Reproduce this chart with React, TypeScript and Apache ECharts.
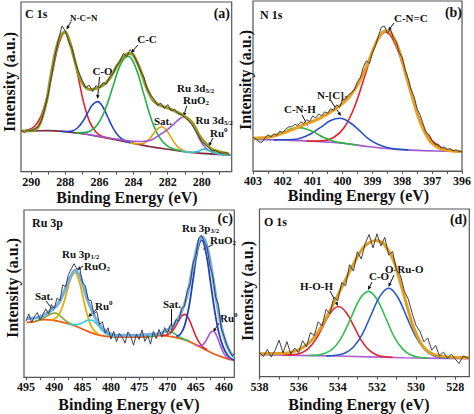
import React, { useEffect, useRef } from 'react';
import * as echarts from 'echarts';

type P = [number, number];

// ---------------- Panel (a) C 1s ----------------
const aLabels = [290, 288, 286, 284, 282, 280];
const aTicks = [290, 289, 288, 287, 286, 285, 284, 283, 282, 281, 280, 279];
const aRaw: P[] = [[290.6,24.5],[290.4,23.0],[290.2,24.8],[290.0,23.9],[289.8,25.3],[289.6,26.4],[289.4,30.1],[289.2,37.5],[289.0,45.8],[288.8,57.2],[288.6,68.5],[288.4,78.0],[288.2,85.8],[288.0,83.0],[287.8,76.5],[287.6,72.4],[287.4,63.8],[287.2,58.1],[287.0,53.6],[286.8,49.4],[286.6,51.0],[286.4,47.2],[286.2,50.8],[286.0,49.3],[285.8,52.4],[285.6,51.6],[285.4,56.0],[285.2,57.9],[285.0,62.4],[284.8,64.9],[284.6,69.7],[284.4,67.8],[284.2,72.0],[284.0,69.0],[283.8,64.5],[283.6,59.7],[283.4,55.8],[283.2,48.6],[283.0,45.2],[282.8,42.8],[282.6,39.0],[282.4,40.4],[282.2,37.2],[282.0,39.6],[281.8,35.9],[281.6,36.8],[281.4,34.2],[281.2,33.8],[281.0,31.9],[280.8,30.4],[280.6,28.0],[280.4,24.6],[280.2,21.4],[280.0,17.5],[279.8,16.0],[279.6,14.3],[279.4,12.3],[279.2,12.6],[279.0,11.4],[278.8,10.8],[278.6,11.2],[278.4,10.1]];
const aFit: P[] = [[290.55,24.0],[289.86,24.6],[289.48,28.5],[289.09,42.2],[288.89,54.0],[288.60,69.7],[288.31,79.6],[288.02,82.5],[287.73,75.6],[287.43,64.8],[287.14,55.0],[286.85,50.1],[286.56,48.5],[286.17,49.1],[285.78,51.1],[285.39,55.0],[285.0,61.9],[284.62,67.4],[284.32,69.7],[284.03,68.8],[283.64,60.9],[283.26,50.1],[282.87,42.2],[282.48,39.3],[282.09,37.9],[281.70,36.3],[281.31,34.4],[280.92,32.0],[280.53,28.5],[280.15,21.5],[279.76,16.5],[279.37,13.0],[278.98,11.8],[278.40,10.4]];
const aBase: P[] = [[290.6,24.0],[290.0,24.0],[289,24.2],[288,23.6],[287,22.4],[286,20.6],[285,18.7],[284,16.7],[283,14.7],[282,13.2],[281,11.8],[280,10.8],[279,10.2],[278.25,9.8]];
const aNCN: P[] = [[290.6,24.0],[290.18,24.6],[289.82,26.6],[289.46,32.0],[289.10,43.2],[288.74,59.5],[288.38,75.4],[288.02,82.1],[287.66,74.8],[287.30,58.3],[286.94,41.3],[286.58,29.5],[286.22,23.6],[285.86,20.9],[285.4,19.5]];
const aCO: P[] = [[288.3,23.8],[287.91,23.7],[287.61,24.0],[287.31,25.6],[287.01,29.1],[286.71,34.3],[286.41,39.4],[286.11,41.3],[285.81,38.3],[285.51,32.1],[285.21,25.8],[284.91,21.3],[284.61,18.8],[284.31,17.5],[284.0,16.9]];
const aCC: P[] = [[287.4,22.9],[287.02,23.0],[286.57,23.8],[286.12,27.7],[285.67,36.5],[285.22,49.9],[284.77,63.1],[284.32,68.1],[283.87,61.2],[283.42,46.3],[282.97,31.2],[282.52,20.8],[282.07,15.5],[281.62,13.3],[281.2,12.4]];
const aSat: P[] = [[284.2,17.0],[283.84,16.5],[283.59,16.5],[283.34,17.1],[283.09,19.1],[282.84,22.3],[282.59,25.4],[282.34,26.5],[282.09,24.6],[281.84,20.8],[281.59,16.8],[281.34,14.0],[281.09,12.5],[280.84,11.7],[280.5,11.3]];
const aRuO2: P[] = [[287.0,22.4],[286.0,20.9],[285.0,19.2],[284.0,17.9],[283.5,17.8],[283.0,18.5],[282.5,21.5],[282.0,25.0],[281.6,28.5],[281.3,31.2],[281.06,32.4],[280.8,30.5],[280.5,26.8],[280.2,20.5],[279.9,15.5],[279.6,12.6],[279.3,11.2],[279.0,10.5],[278.5,10.0]];
const aRu0: P[] = [[281.2,12.1],[280.8,11.6],[280.5,11.5],[280.2,12.0],[279.91,13.3],[279.6,12.6],[279.3,11.2],[279.0,10.4],[278.6,10.0],[278.25,9.8]];

// ---------------- Panel (b) N 1s ----------------
const bLabels = [403, 402, 401, 400, 399, 398, 397, 396];
const bTicks = [403, 402.5, 402, 401.5, 401, 400.5, 400, 399.5, 399, 398.5, 398, 397.5, 397, 396.5, 396];
const bRaw: P[] = [[403.0,19.8],[402.9,18.9],[402.8,17.2],[402.7,16.8],[402.6,19.5],[402.5,21.3],[402.4,20.0],[402.3,21.9],[402.2,21.0],[402.1,23.5],[402.0,22.6],[401.9,24.8],[401.8,25.9],[401.7,26.1],[401.6,27.4],[401.5,26.8],[401.4,28.9],[401.3,28.0],[401.2,30.2],[401.1,29.1],[401.0,32.4],[400.9,31.2],[400.8,33.6],[400.7,32.5],[400.6,34.8],[400.5,33.9],[400.4,36.6],[400.3,35.8],[400.2,38.9],[400.1,37.5],[400.0,41.9],[399.9,42.5],[399.8,44.9],[399.7,46.1],[399.6,48.0],[399.5,52.6],[399.4,55.0],[399.3,61.5],[399.2,64.8],[399.1,63.2],[399.0,69.5],[398.9,73.6],[398.8,79.4],[398.7,84.6],[398.6,85.3],[398.5,81.0],[398.4,83.6],[398.3,78.2],[398.2,75.9],[398.1,69.6],[398.0,66.8],[397.9,59.5],[397.8,54.2],[397.7,47.8],[397.6,43.5],[397.5,36.4],[397.4,32.8],[397.3,27.6],[397.2,22.5],[397.1,21.4],[397.0,17.8],[396.9,15.6],[396.8,15.9],[396.7,13.5],[396.6,14.2],[396.5,12.8],[396.4,13.1],[396.3,11.9],[396.2,12.4],[396.1,11.6],[396.0,11.2]];
const bFit: P[] = [[403,19.2],[402.42,20.2],[401.87,23.1],[401.32,27.1],[400.77,31.0],[400.21,36.9],[399.77,43.7],[399.44,52.5],[399.11,65.3],[398.89,75.1],[398.67,81.4],[398.50,82.5],[398.33,80.0],[398.11,71.2],[397.89,57.5],[397.67,43.7],[397.45,31.0],[397.23,22.2],[397.01,16.3],[396.67,12.7],[396.01,11.4]];
const bBase: P[] = [[403,18.6],[402,18.2],[401,17.5],[400,16.3],[399.1,14.3],[398.2,12.7],[397.3,12.0],[396,11.4]];
const bCNC: P[] = [[401.2,17.6],[400.65,17.8],[400.30,19.7],[399.95,25.4],[399.60,37.7],[399.25,56.2],[398.90,74.3],[398.55,81.8],[398.20,73.1],[397.85,53.9],[397.50,34.4],[397.15,21.1],[396.80,14.7],[396.45,12.3],[396.0,11.4]];
const bNC3: P[] = [[402.3,18.3],[401.97,18.4],[401.66,18.5],[401.34,19.7],[401.03,22.2],[400.71,26.0],[400.40,29.7],[400.08,31.0],[399.77,28.7],[399.45,24.0],[399.14,19.1],[398.82,15.7],[398.51,13.8],[398.19,12.9],[397.8,12.4]];
const bCNH: P[] = [[403,18.7],[402.81,18.8],[402.53,19.4],[402.26,20.8],[401.98,22.9],[401.71,24.8],[401.43,25.5],[401.16,24.4],[400.88,22.1],[400.61,19.5],[400.33,17.7],[400.06,16.7],[399.78,15.9],[399.5,15.3]];

// ---------------- Panel (c) Ru 3p ----------------
const cLabels = [495, 490, 485, 480, 475, 470, 465, 460];
const cTicks = [495, 492.5, 490, 487.5, 485, 482.5, 480, 477.5, 475, 472.5, 470, 467.5, 465, 462.5, 460];
const cRaw: P[] = [[495.0,33.5],[494.5,37.8],[494.0,32.9],[493.5,36.4],[493.0,38.7],[492.5,34.2],[492.0,37.6],[491.5,40.9],[491.0,37.8],[490.5,43.5],[490.0,41.2],[489.5,47.4],[489.0,45.8],[488.5,55.3],[488.0,54.1],[487.5,61.5],[487.0,64.8],[486.5,67.9],[486.0,64.6],[485.5,65.2],[485.0,56.4],[484.5,54.8],[484.0,46.3],[483.5,45.9],[483.0,37.8],[482.5,39.4],[482.0,31.6],[481.5,33.2],[481.0,26.4],[480.5,29.6],[480.0,22.8],[479.5,27.4],[479.0,21.3],[478.5,26.2],[478.0,23.9],[477.5,20.4],[477.0,27.1],[476.5,24.5],[476.0,19.2],[475.5,25.8],[475.0,22.6],[474.5,28.3],[474.0,21.5],[473.5,24.9],[473.0,19.8],[472.5,27.4],[472.0,23.1],[471.5,28.6],[471.0,24.0],[470.5,29.7],[470.0,26.2],[469.5,31.4],[469.0,29.8],[468.5,34.6],[468.0,33.5],[467.5,41.2],[467.0,42.5],[466.5,51.8],[466.0,55.4],[465.5,68.1],[465.0,72.6],[464.5,83.2],[464.0,85.0],[463.5,80.9],[463.0,77.8],[462.5,66.4],[462.0,60.5],[461.5,47.9],[461.0,43.4],[460.5,29.0],[460.0,24.5],[459.5,19.0],[459.0,15.5],[458.5,12.6],[458.2,14.3]];
const cFit: P[] = [[494.88,35.1],[492.53,36.1],[490.17,41.0],[489.2,44.5],[488.40,50.0],[487.22,59.5],[486.34,64.0],[485.45,60.5],[484.28,47.5],[483.10,38.0],[481.92,31.0],[480.74,27.1],[478.97,25.1],[476.03,25.1],[473.08,25.7],[471.31,26.1],[470.13,28.1],[468.95,31.1],[467.78,37.1],[466.60,48.0],[465.42,67.9],[464.53,80.9],[463.95,83.9],[463.36,81.9],[462.48,70.0],[461.30,45.0],[460.12,25.0],[458.94,15.0],[458.2,12.2]];
const cBase: P[] = [[494.9,32.8],[493.7,33.1],[491.94,34.5],[489.58,33.7],[486.63,31.1],[484.27,27.7],[481.92,25.1],[478.97,24.1],[474.26,24.1],[471.31,24.9],[468.95,24.1],[466.60,22.1],[464.24,18.1],[461.88,14.1],[459.53,11.2],[458.2,10.2]];
const cSatL: P[] = [[493.47,33.3],[492.87,34.0],[492.27,34.9],[491.67,35.9],[491.07,37.0],[490.47,38.1],[489.87,38.4],[489.27,37.6],[488.67,35.8],[488.07,34.0],[487.47,32.6],[486.87,31.6],[486.27,30.7]];
const cRuO2L: P[] = [[490.54,34.4],[489.84,35.2],[489.14,37.7],[488.44,43.3],[487.74,51.6],[487.04,59.5],[486.34,62.6],[485.64,57.9],[484.94,48.1],[484.24,38.1],[483.54,31.1],[482.84,27.4],[482.14,25.7]];
const cRu0L: P[] = [[487.59,32.2],[486.89,31.7],[486.19,31.5],[485.49,31.9],[484.79,33.1],[484.09,34.1],[483.39,34.2],[482.69,32.5],[481.99,29.8],[481.29,27.3],[480.59,25.6],[479.89,24.7],[479.19,24.3]];
const cSatR1: P[] = [[473.44,24.3],[472.84,24.6],[472.24,25.0],[471.64,25.8],[471.04,26.7],[470.44,27.4],[469.84,27.6],[469.24,26.9],[468.64,25.8],[468.04,24.5],[467.44,23.3],[466.84,22.4],[466.24,21.5]];
const cSatR2: P[] = [[470.79,25.0],[470.14,25.4],[469.49,26.5],[468.84,29.0],[468.19,32.8],[467.54,36.4],[466.89,37.6],[466.24,34.9],[465.59,29.6],[464.94,24.2],[464.29,20.3],[463.64,17.8],[462.99,16.7]];
const cRuO2R: P[] = [[468.45,24.4],[467.70,25.9],[466.95,31.1],[466.20,42.3],[465.45,59.2],[464.70,75.7],[463.95,82.0],[463.20,74.5],[462.45,58.0],[461.70,40.5],[460.95,27.0],[460.20,18.5],[459.45,13.5],[458.7,11.0],[458.2,10.3]];
const cRu0R: P[] = [[464.88,19.4],[464.38,18.9],[463.88,19.3],[463.38,20.9],[462.88,23.9],[462.38,26.9],[461.88,27.5],[461.38,25.3],[460.88,21.1],[460.38,16.6],[459.88,13.4],[459.38,11.7],[458.88,10.9]];

// ---------------- Panel (d) O 1s ----------------
const dLabels = [538, 536, 534, 532, 530, 528];
const dTicks = [538, 537, 536, 535, 534, 533, 532, 531, 530, 529, 528];
const dRaw: P[] = [[538.0,14.5],[537.8,12.0],[537.6,16.3],[537.4,11.8],[537.2,15.9],[537.0,21.8],[536.8,14.2],[536.6,20.9],[536.4,13.6],[536.2,17.1],[536.0,14.4],[535.8,21.5],[535.6,17.8],[535.4,26.3],[535.2,24.5],[535.0,32.8],[534.8,30.2],[534.6,40.1],[534.4,37.5],[534.2,47.6],[534.0,45.3],[533.8,56.1],[533.6,54.2],[533.4,66.8],[533.2,63.0],[533.0,74.5],[532.8,70.2],[532.6,79.4],[532.4,84.8],[532.2,76.8],[532.0,85.2],[531.8,78.0],[531.6,83.1],[531.4,72.5],[531.2,74.6],[531.0,63.4],[530.8,60.5],[530.6,51.2],[530.4,46.3],[530.2,37.9],[530.0,30.6],[529.8,26.9],[529.6,20.8],[529.4,23.1],[529.2,15.8],[529.0,18.6],[528.8,12.4],[528.6,14.7],[528.4,11.0],[528.2,13.5],[528.0,10.6],[527.8,7.8],[527.6,12.4],[527.3,11.0]];
const dFit: P[] = [[537.97,13.7],[536.60,14.1],[535.75,17.7],[535.07,25.6],[534.39,39.5],[533.71,55.4],[533.19,67.3],[532.68,77.2],[532.09,81.2],[531.66,79.2],[531.15,69.2],[530.64,49.4],[530.13,29.6],[529.62,17.7],[528.93,12.7],[527.28,11.3]];
const dBase: P[] = [[538,13.1],[534.05,12.3],[530.64,11.3],[527.28,10.7]];
const dHOH: P[] = [[536.8,13.0],[536.30,13.1],[535.91,14.0],[535.52,16.6],[535.13,22.1],[534.74,30.4],[534.35,38.5],[533.96,41.9],[533.57,38.3],[533.18,30.1],[532.79,21.5],[532.40,15.8],[532.01,13.0],[531.62,11.9],[531.2,11.6]];
const dCO: P[] = [[535.5,12.6],[535.04,12.9],[534.61,14.1],[534.17,17.6],[533.74,24.9],[533.30,35.8],[532.87,46.5],[532.43,50.9],[532.00,46.2],[531.56,35.3],[531.13,24.1],[530.69,16.6],[530.26,12.9],[529.82,11.6],[529.4,11.2]];
const dORuO: P[] = [[534.6,12.4],[534.10,12.8],[533.65,14.0],[533.20,17.7],[532.75,25.3],[532.30,36.8],[531.85,47.9],[531.40,52.7],[530.95,47.7],[530.50,36.3],[530.05,24.6],[529.60,16.7],[529.15,12.8],[528.70,11.5],[528.2,11.1]];

const FONT = 'Liberation Serif, Times New Roman, serif';
const INK = '#111';

let measureCtx: CanvasRenderingContext2D | null = null;
function tw(s: string, size: number): number {
  if (!measureCtx) measureCtx = document.createElement('canvas').getContext('2d');
  if (!measureCtx) return s.length * size * 0.5;
  measureCtx.font = `bold ${size}px ${FONT}`;
  return measureCtx.measureText(s).width;
}

type Part = { t: string; s: number; dy?: number };
function rtext(x: number, y: number, parts: Part[], align: 'left' | 'center' | 'right' = 'left') {
  const ws = parts.map((p) => tw(p.t, p.s));
  const total = ws.reduce((a, b) => a + b, 0);
  let cx = align === 'left' ? x : align === 'center' ? x - total / 2 : x - total;
  return parts.map((p, i) => {
    const el = {
      type: 'text',
      x: cx,
      y: y + (p.dy || 0),
      silent: true,
      style: {
        text: p.t,
        font: `bold ${p.s}px ${FONT}`,
        fill: INK,
        lineHeight: p.s,
        textAlign: 'left',
        textVerticalAlign: 'middle',
      },
    };
    cx += ws[i];
    return el;
  });
}

function arrow(x1: number, y1: number, x2: number, y2: number) {
  const ang = Math.atan2(y2 - y1, x2 - x1);
  const L = 4;
  const W = 1.8;
  const bx = x2 - L * Math.cos(ang);
  const by = y2 - L * Math.sin(ang);
  const px = -Math.sin(ang) * W;
  const py = Math.cos(ang) * W;
  return [
    { type: 'line', silent: true, shape: { x1, y1, x2: bx, y2: by }, style: { stroke: INK, lineWidth: 1 } },
    { type: 'polygon', silent: true, shape: { points: [[x2, y2], [bx + px, by + py], [bx - px, by - py]] }, style: { fill: INK } },
  ];
}

function rotLabel(x: number, y: number, text: string) {
  return {
    type: 'text',
    x,
    y,
    rotation: Math.PI / 2,
    silent: true,
    style: { text, font: `bold 16px ${FONT}`, fill: INK, lineHeight: 16, textAlign: 'center', textVerticalAlign: 'middle' },
  };
}

export default function App() {
  const ref = useRef<HTMLDivElement>(null);
  useEffect(() => {
    if (!ref.current) return;
    const chart = echarts.init(ref.current, null, { renderer: 'svg' });

    const grids = [
      { left: 21, top: 2, width: 210.7, height: 169.7 },
      { left: 253, top: 1, width: 211.3, height: 170 },
      { left: 24, top: 210, width: 210.3, height: 167.3 },
      { left: 259.5, top: 209, width: 209.8, height: 167.7 },
    ];
    const ranges = [
      { min: 278.25, max: 290.6, labels: aLabels, ticks: aTicks },
      { min: 396, max: 403, labels: bLabels, ticks: bTicks },
      { min: 458.2, max: 495.35, labels: cLabels, ticks: cTicks },
      { min: 527.28, max: 538, labels: dLabels, ticks: dTicks },
    ];

    const line = (g: number, data: P[], color: string, width: number, smooth: number | boolean, z = 2) => ({
      type: 'line',
      xAxisIndex: g,
      yAxisIndex: g,
      data,
      symbol: 'none',
      showSymbol: false,
      smooth,
      silent: true,
      z,
      clip: true,
      lineStyle: { color, width },
      itemStyle: { color },
    });

    const series = [
      // (a)
      line(0, aBase, '#7b2838', 1.6, 0.4),
      line(0, aNCN, '#e5202a', 1.6, 0.4),
      line(0, aCO, '#2448c0', 1.6, 0.4),
      line(0, aCC, '#22b04a', 1.6, 0.4),
      line(0, aSat, '#e0a410', 1.6, 0.4),
      line(0, aRuO2, '#a258d2', 1.6, 0.4),
      line(0, aRu0, '#2cc3d3', 1.6, 0.4),
      line(0, aFit, '#9b9b22', 3, 0.3, 3),
      line(0, aRaw, '#404040', 1, false, 4),
      // (b)
      line(1, bBase, '#a058d0', 1.6, 0.4),
      line(1, bCNC, '#e8202a', 1.6, 0.4),
      line(1, bNC3, '#2a50c8', 1.6, 0.4),
      line(1, bCNH, '#30b040', 1.6, 0.4),
      line(1, bFit, '#e8a020', 3, 0.3, 3),
      line(1, bRaw, '#404040', 1, false, 4),
      // (c)
      line(2, cBase, '#f05a14', 1.8, 0.4),
      line(2, cSatL, '#86a032', 1.6, 0.4),
      line(2, cRuO2L, '#e0b000', 1.8, 0.4),
      line(2, cRu0L, '#30d0d0', 1.6, 0.4),
      line(2, cSatR1, '#30c050', 1.6, 0.4),
      line(2, cSatR2, '#e02030', 1.6, 0.4),
      line(2, cRuO2R, '#2040c0', 1.8, 0.4),
      line(2, cRu0R, '#b050d0', 1.6, 0.4),
      line(2, cFit, '#74aee2', 3, 0.3, 3),
      line(2, cRaw, '#3a4050', 1, false, 4),
      // (d)
      line(3, dBase, '#b060d0', 1.6, 0.4),
      line(3, dHOH, '#e02030', 1.6, 0.4),
      line(3, dCO, '#30c050', 1.6, 0.4),
      line(3, dORuO, '#2858c8', 1.6, 0.4),
      line(3, dFit, '#e0a020', 3, 0.3, 3),
      line(3, dRaw, '#404040', 1, false, 4),
    ];

    const sub = 3;
    const sup = -3;
    const graphic: any[] = [
      // y-axis titles
      rotLabel(9, 82, 'Intensity (a.u.)'),
      rotLabel(245, 80, 'Intensity (a.u.)'),
      rotLabel(12.5, 288, 'Intensity (a.u.)'),
      rotLabel(247, 291, 'Intensity (a.u.)'),
      // x-axis titles
      ...rtext(127, 197, [{ t: 'Binding Energy (eV)', s: 16 }], 'center'),
      ...rtext(358.5, 195, [{ t: 'Binding Energy (eV)', s: 16 }], 'center'),
      ...rtext(129, 404.5, [{ t: 'Binding Energy (eV)', s: 16 }], 'center'),
      ...rtext(359, 404, [{ t: 'Binding Energy (eV)', s: 16 }], 'center'),
      // panel titles
      ...rtext(25, 13.5, [{ t: 'C 1s', s: 12 }]),
      ...rtext(230, 13.5, [{ t: '(a)', s: 14 }], 'right'),
      ...rtext(260, 15, [{ t: 'N 1s', s: 12 }]),
      ...rtext(462, 12.5, [{ t: '(b)', s: 14 }], 'right'),
      ...rtext(32, 223, [{ t: 'Ru 3p', s: 12 }]),
      ...rtext(233, 218.5, [{ t: '(c)', s: 14 }], 'right'),
      ...rtext(264, 221.5, [{ t: 'O 1s', s: 12 }]),
      ...rtext(467, 219, [{ t: '(d)', s: 14 }], 'right'),
      // (a) annotations
      ...rtext(70, 18, [{ t: 'N-C=N', s: 9 }]),
      ...arrow(71, 21.5, 66.5, 29.5),
      ...rtext(102.5, 71, [{ t: 'C-O', s: 11 }], 'center'),
      ...arrow(99.5, 77, 97.5, 99),
      ...rtext(147, 39, [{ t: 'C-C', s: 11 }], 'center'),
      ...arrow(138, 45, 131, 53),
      ...rtext(163, 120.5, [{ t: 'Sat.', s: 11 }], 'center'),
      ...rtext(177, 88, [{ t: 'Ru 3d', s: 11 }, { t: '5/2', s: 7, dy: sub }]),
      ...rtext(183, 100, [{ t: 'RuO', s: 11 }, { t: '2', s: 7, dy: sub }]),
      ...arrow(186.7, 106, 183.5, 116.5),
      ...rtext(195.5, 120, [{ t: 'Ru 3d', s: 11 }, { t: '5/2', s: 7, dy: sub }]),
      ...rtext(210, 132.5, [{ t: 'Ru', s: 11 }, { t: '0', s: 7, dy: sup }]),
      ...arrow(213, 138, 208.5, 146.5),
      // (b) annotations
      ...rtext(394, 18, [{ t: 'C-N=C', s: 11 }]),
      ...arrow(394, 23, 388, 31),
      ...rtext(317, 95, [{ t: 'N-[C]', s: 11 }, { t: '3', s: 7, dy: sub }]),
      ...arrow(331, 101, 341, 116),
      ...rtext(284, 109, [{ t: 'C-N-H', s: 11 }]),
      ...arrow(302, 115, 308, 126),
      // (c) annotations
      ...rtext(62, 254, [{ t: 'Ru 3p', s: 11 }, { t: '1/2', s: 7, dy: sub }]),
      ...rtext(84, 265.5, [{ t: 'RuO', s: 11 }, { t: '2', s: 7, dy: sub }]),
      ...arrow(83, 266, 77, 270),
      ...rtext(35, 296, [{ t: 'Sat.', s: 11 }]),
      ...arrow(46, 301, 54, 311),
      ...rtext(95, 306, [{ t: 'Ru', s: 11 }, { t: '0', s: 7, dy: sup }]),
      ...arrow(96, 310, 88, 317),
      ...rtext(163, 304, [{ t: 'Sat.', s: 11 }]),
      ...arrow(171.5, 309, 171.5, 331),
      ...rtext(182, 228, [{ t: 'Ru 3p', s: 11 }, { t: '3/2', s: 7, dy: sub }]),
      ...rtext(210, 240, [{ t: 'RuO', s: 11 }, { t: '2', s: 7, dy: sub }]),
      ...arrow(213, 244.5, 203, 249.5),
      ...rtext(220, 318, [{ t: 'Ru', s: 11 }, { t: '0', s: 7, dy: sup }]),
      ...arrow(220, 322, 213, 332),
      // (d) annotations
      ...rtext(300, 286, [{ t: 'H-O-H', s: 11 }]),
      ...arrow(330, 291, 338, 306),
      ...rtext(369, 276, [{ t: 'C-O', s: 11 }]),
      ...arrow(372, 282, 368, 290),
      ...rtext(385, 269, [{ t: 'O-Ru-O', s: 11 }]),
      ...arrow(394, 275, 388.5, 287),
    ];

    const option: any = {
      animation: false,
      backgroundColor: '#ffffff',
      grid: grids.map((g) => ({ ...g, show: true, borderColor: '#555', borderWidth: 1.2, backgroundColor: 'transparent', containLabel: false })),
      xAxis: ranges.map((r, i) => ({
        type: 'value',
        gridIndex: i,
        inverse: true,
        min: r.min,
        max: r.max,
        splitLine: { show: false },
        axisLine: { show: true, lineStyle: { color: '#555', width: 1.2 } },
        axisTick: { show: true, customValues: r.ticks, length: 3, inside: false, lineStyle: { color: '#555' } },
        axisLabel: {
          customValues: r.labels,
          color: INK,
          fontSize: 12,
          lineHeight: 12,
          fontWeight: 'bold',
          fontFamily: FONT,
          margin: 4,
        },
      })),
      yAxis: ranges.map((_, i) => ({ type: 'value', gridIndex: i, min: 0, max: 100, show: false })),
      series,
      graphic,
    };
    chart.setOption(option);
    return () => chart.dispose();
  }, []);
  return (
    <div
      ref={ref}
      style={{ position: 'fixed', left: 0, top: 0, width: 474, height: 414, background: '#fff' }}
    />
  );
}
